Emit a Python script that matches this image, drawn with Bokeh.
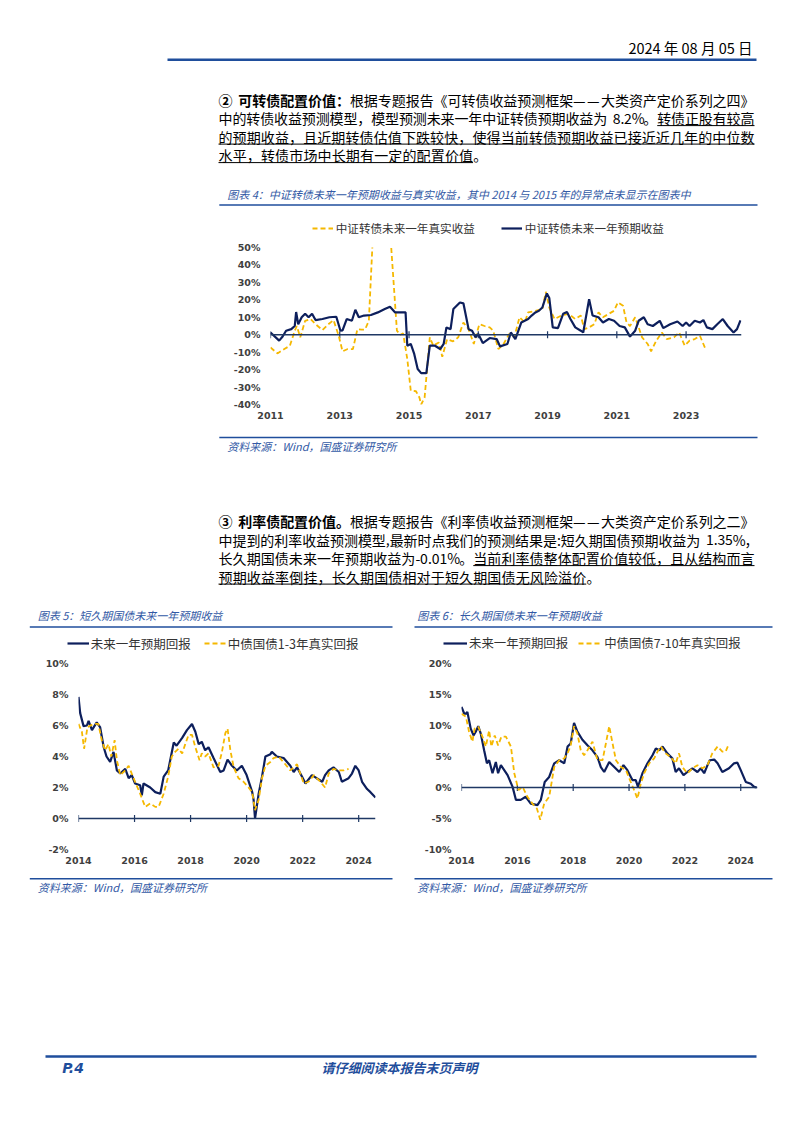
from bokeh.plotting import figure
from bokeh.models import Range1d, FixedTicker, NumeralTickFormatter, Legend, LegendItem, Span
from bokeh.layouts import column, row
from bokeh.embed import file_html
from bokeh.resources import INLINE
from bokeh.core.properties import value
from collections import defaultdict
import math

# ---------------- data (percent) ----------------
# Chart 4: CSI convertible bond index, expected vs realised 1y return
cb_exp_t = [2011.0, 2011.25, 2011.35, 2011.45, 2011.6, 2011.7, 2011.74, 2011.8, 2011.9, 2012.0, 2012.1, 2012.2,
            2012.3, 2012.5, 2012.7, 2012.9, 2013.02, 2013.08, 2013.2, 2013.35, 2013.45, 2013.55, 2013.7, 2013.9,
            2014.1, 2014.3, 2014.45, 2014.6, 2014.9, 2014.95, 2015.05, 2015.15, 2015.25, 2015.35, 2015.5, 2015.6,
            2015.75, 2015.9, 2016.0, 2016.08, 2016.2, 2016.28, 2016.47, 2016.57, 2016.72, 2016.82, 2016.92, 2017.0,
            2017.13, 2017.33, 2017.53, 2017.63, 2017.84, 2017.94, 2018.07, 2018.24, 2018.44, 2018.54, 2018.65,
            2018.75, 2018.85, 2018.98, 2019.05, 2019.15, 2019.3, 2019.45, 2019.56, 2019.66, 2019.8, 2019.96,
            2020.03, 2020.2, 2020.3, 2020.47, 2020.6, 2020.77, 2020.92, 2021.08, 2021.23, 2021.38, 2021.53,
            2021.63, 2021.78, 2021.89, 2022.04, 2022.24, 2022.34, 2022.54, 2022.75, 2022.9, 2023.0, 2023.1,
            2023.25, 2023.4, 2023.5, 2023.6, 2023.76, 2023.9, 2024.06, 2024.2, 2024.37, 2024.47, 2024.57]
cb_exp = [1.3, -3.4, -1.0, 2.3, 3.2, 5.0, 13.0, 6.0, 10.0, 12.0, 10.0, 12.0,
          8.4, 9.0, 10.0, 10.3, 2.3, 2.5, 9.0, 8.0, 14.3, 10.0, 11.0, 11.3,
          12.8, 14.7, 16.0, 12.8, 12.8, -6.3, -5.3, -11.0, -19.7, -22.0, -22.0, -6.3,
          -6.3, -8.2, -5.3, 4.2, 3.2, 14.7, 18.5, 18.0, 3.2, 2.3, -1.5, 0.4,
          -4.8, -1.9, -2.5, -6.7, -5.3, 1.3, -2.5, 7.0, 9.0, 11.0, 12.8,
          13.7, 15.6, 23.7, 21.0, 4.2, 3.8, 12.0, 13.0, 9.0, 4.2, 2.3,
          1.3, 20.4, 11.0, 10.0, 7.0, 9.0, 8.0, 5.0, 4.2, -1.1, 2.3,
          8.0, 10.0, 6.0, 5.0, 8.0, 3.8, 6.0, 7.6, 5.0, 7.0, 5.0,
          8.0, 7.0, 8.4, 4.2, 3.2, 6.0, 9.0, 5.0, 1.3, 3.2, 8.2]
cb_real_t = [2011.0, 2011.2, 2011.4, 2011.56, 2011.7, 2011.76, 2011.86, 2012.0, 2012.16, 2012.3, 2012.5, 2012.67,
             2012.82, 2012.97, 2013.08, 2013.23, 2013.38, 2013.51, 2013.63, 2013.73, 2013.84, 2014.0, 2014.2,
             2014.4, 2014.65, 2014.75, 2014.83, 2014.95, 2015.05, 2015.2, 2015.3, 2015.35, 2015.45, 2015.6,
             2015.7, 2015.86, 2015.96, 2016.1, 2016.27, 2016.42, 2016.57, 2016.72, 2016.87, 2017.03, 2017.18,
             2017.33, 2017.43, 2017.58, 2017.73, 2017.89, 2018.04, 2018.19, 2018.34, 2018.44, 2018.65, 2018.85,
             2018.95, 2019.05, 2019.2, 2019.4, 2019.6, 2019.8, 2019.96, 2020.06, 2020.2, 2020.35, 2020.47,
             2020.6, 2020.77, 2020.92, 2021.03, 2021.18, 2021.28, 2021.38, 2021.53, 2021.73, 2021.89, 2021.99,
             2022.14, 2022.3, 2022.44, 2022.65, 2022.8, 2022.96, 2023.1, 2023.25, 2023.4, 2023.56]
cb_real = [-7.3, -10.7, -8.2, -6.3, 2.3, 5.0, -1.5, 8.0, 9.0, 6.0, 2.7, 6.0,
           8.4, -0.6, -9.5, -8.2, -8.2, 3.2, 2.9, 3.0, 8.0, 75.0, 95.0,
           75.0, 2.3, 0.0, 0.8, -14.0, -32.0, -32.4, -36.0, -40.0, -36.0, -1.5,
           -6.3, -4.4, -12.6, -2.5, -3.8, -1.5, 7.0, 3.2, -5.3, 6.0, 5.0,
           4.2, 2.3, -8.2, -5.3, 0.4, -1.5, 10.0, 7.0, 12.8, 13.7, 14.7,
           24.6, 15.6, 9.0, 11.0, 12.0, 9.0, 11.0, 3.2, 4.2, 6.0, 12.8,
           10.0, 12.0, 13.7, 18.5, 16.6, 7.0, 5.0, 10.0, -1.5, -5.3, -9.5,
           -3.4, 1.3, -2.5, -1.5, 1.3, -6.3, -3.4, -2.5, -0.6, -8.2]

# Chart 5: short-duration government bonds
sg_exp_t = [2014.0, 2014.06, 2014.18, 2014.3, 2014.36, 2014.48, 2014.65, 2014.77, 2014.9, 2015.0, 2015.13, 2015.25,
            2015.37, 2015.49, 2015.67, 2015.79, 2015.9, 2016.02, 2016.2, 2016.26, 2016.32, 2016.56, 2016.74, 2016.92,
            2017.04, 2017.2, 2017.4, 2017.5, 2017.7, 2017.87, 2018.05, 2018.17, 2018.29, 2018.4, 2018.52, 2018.64,
            2018.82, 2019.06, 2019.18, 2019.32, 2019.48, 2019.65, 2019.83, 2020.0, 2020.2, 2020.25, 2020.3, 2020.43,
            2020.55, 2020.67, 2020.85, 2020.9, 2021.08, 2021.32, 2021.56, 2021.68, 2021.8, 2021.98, 2022.1, 2022.33,
            2022.5, 2022.7, 2022.8, 2022.93, 2023.1, 2023.29, 2023.4, 2023.64, 2023.76, 2023.88, 2024.0, 2024.12,
            2024.3, 2024.42, 2024.6]
sg_exp = [7.85, 6.8, 5.96, 6.0, 6.3, 5.7, 6.2, 5.9, 4.6, 4.0, 3.65, 4.3,
          3.1, 2.9, 3.2, 2.6, 2.8, 2.26, 2.15, 1.5, 2.26, 2.0, 1.7, 1.6,
          2.7, 3.1, 4.9, 4.7, 5.2, 5.7, 6.1, 5.6, 4.8, 4.95, 4.4, 4.6,
          3.9, 3.0, 3.1, 3.8, 3.4, 3.1, 3.4, 2.8, 1.7, 1.2, 0.0, 1.6,
          2.7, 4.0, 4.15, 4.3, 4.0, 3.9, 3.4, 3.0, 3.3, 2.7, 2.26, 2.8,
          2.6, 2.37, 2.8, 3.1, 3.3, 3.0, 2.37, 2.6, 2.9, 3.4, 3.1, 2.37,
          1.9, 1.7, 1.35]
sg_real_t = [2014.0, 2014.12, 2014.2, 2014.32, 2014.54, 2014.71, 2014.83, 2014.95, 2015.07, 2015.17, 2015.29, 2015.37,
             2015.49, 2015.67, 2015.79, 2015.9, 2016.02, 2016.2, 2016.38, 2016.56, 2016.74, 2016.86, 2017.04, 2017.2,
             2017.33, 2017.45, 2017.57, 2017.7, 2017.81, 2017.93, 2018.05, 2018.17, 2018.32, 2018.4, 2018.52, 2018.64,
             2018.82, 2019.0, 2019.12, 2019.24, 2019.32, 2019.42, 2019.54, 2019.71, 2019.89, 2020.07, 2020.2, 2020.3,
             2020.43, 2020.55, 2020.67, 2020.85, 2020.96, 2021.14, 2021.38, 2021.56, 2021.8, 2022.04, 2022.21, 2022.4,
             2022.63, 2022.8, 2022.93, 2023.1, 2023.29, 2023.46, 2023.64]
sg_real = [6.1, 5.6, 4.5, 5.9, 6.1, 6.1, 5.05, 4.4, 4.8, 4.0, 5.05, 3.76,
           2.8, 3.1, 3.4, 2.9, 2.37, 1.6, 0.75, 0.97, 0.75, 0.75, 1.6, 2.7,
           4.0, 4.3, 4.5, 4.2, 4.8, 5.4, 5.4, 4.6, 3.76, 4.2, 4.0, 4.2,
           3.3, 3.4, 4.3, 5.5, 5.8, 4.4, 3.3, 2.6, 2.37, 2.0, 1.7, 0.54,
           1.2, 2.6, 3.4, 3.65, 3.9, 4.0, 3.5, 3.1, 3.5, 2.26, 2.37, 2.8,
           2.37, 2.0, 2.9, 3.2, 3.1, 3.1, 3.2]

# Chart 6: long-duration government bonds
lg_exp_t = [2014.0, 2014.1, 2014.16, 2014.21, 2014.33, 2014.43, 2014.51, 2014.6, 2014.69, 2014.81, 2014.91, 2014.99,
            2015.11, 2015.23, 2015.31, 2015.41, 2015.53, 2015.65, 2015.83, 2015.95, 2016.12, 2016.3, 2016.48, 2016.72,
            2016.84, 2016.98, 2017.14, 2017.32, 2017.5, 2017.68, 2017.8, 2017.91, 2018.03, 2018.15, 2018.33, 2018.51,
            2018.69, 2018.87, 2018.99, 2019.11, 2019.29, 2019.47, 2019.65, 2019.8, 2019.94, 2020.12, 2020.24, 2020.32,
            2020.48, 2020.66, 2020.84, 2020.96, 2021.08, 2021.2, 2021.37, 2021.55, 2021.67, 2021.79, 2021.95, 2022.09,
            2022.27, 2022.45, 2022.57, 2022.69, 2022.81, 2022.89, 2023.05, 2023.17, 2023.34, 2023.58, 2023.76, 2023.88,
            2024.0, 2024.18, 2024.36, 2024.48, 2024.57]
lg_exp = [13.0, 11.9, 11.9, 12.2, 9.5, 8.4, 9.0, 9.9, 8.7, 6.0, 3.9, 4.4,
          2.3, 4.1, 2.3, 3.6, 2.8, 2.0, 0.1, -2.0, -2.0, -1.5, -2.6, -2.85,
          -2.0, 0.9, 1.7, 3.9, 4.4, 3.9, 6.6, 7.1, 10.4, 9.0, 7.7, 6.8,
          6.0, 4.9, 3.3, 2.5, 4.1, 3.3, 2.5, 3.6, 2.8, 1.2, 1.2, 0.1,
          2.3, 3.9, 5.2, 6.3, 6.0, 6.6, 5.5, 4.7, 2.5, 3.1, 2.0, 2.5,
          3.1, 2.5, 3.1, 2.3, 3.6, 4.4, 4.5, 3.9, 2.5, 3.1, 3.9, 4.0,
          2.8, 0.9, 0.6, 0.1, -0.01]
lg_real_t = [2014.0, 2014.16, 2014.27, 2014.39, 2014.47, 2014.6, 2014.75, 2014.87, 2014.99, 2015.07, 2015.19, 2015.31,
             2015.43, 2015.59, 2015.77, 2015.89, 2016.04, 2016.19, 2016.36, 2016.54, 2016.7, 2016.82, 2016.96, 2017.14,
             2017.32, 2017.5, 2017.68, 2017.8, 2017.91, 2018.03, 2018.15, 2018.27, 2018.39, 2018.51, 2018.69, 2018.87,
             2019.05, 2019.17, 2019.29, 2019.41, 2019.53, 2019.71, 2019.89, 2020.06, 2020.18, 2020.3, 2020.42, 2020.54,
             2020.72, 2020.9, 2021.02, 2021.14, 2021.31, 2021.49, 2021.67, 2021.79, 2021.91, 2022.09, 2022.27, 2022.45,
             2022.63, 2022.81, 2022.98, 2023.17, 2023.34, 2023.46, 2023.58]
lg_real = [11.9, 11.4, 9.0, 7.4, 9.5, 9.8, 8.2, 6.6, 9.2, 6.6, 8.4, 6.8,
           8.2, 8.2, 6.6, 2.3, -0.4, 0.1, -1.5, -2.6, -3.4, -5.2, -2.6, -1.5,
           3.3, 4.4, 4.7, 5.5, 6.8, 9.9, 8.7, 6.0, 5.2, 6.0, 7.4, 4.4,
           4.4, 7.1, 9.9, 7.1, 4.4, 3.3, 2.8, 0.9, -0.4, -1.8, 0.6, 2.3,
           3.9, 4.7, 5.8, 6.6, 5.5, 4.9, 3.9, 5.5, 3.3, 2.3, 3.1, 3.6,
           3.1, 3.6, 5.5, 6.6, 5.8, 5.8, 7.1]

# labels / ticks
c4_year_ticks = [2011, 2013, 2015, 2017, 2019, 2021, 2023]
c4_y_ticks = [-0.4, -0.3, -0.2, -0.1, 0.0, 0.1, 0.2, 0.3, 0.4, 0.5]
c56_year_ticks = [2014, 2016, 2018, 2020, 2022, 2024]
c5_y_ticks = [-0.02, 0.0, 0.02, 0.04, 0.06, 0.08, 0.10]
c6_y_ticks = [-0.10, -0.05, 0.0, 0.05, 0.10, 0.15, 0.20]
c4_labels = ["中证转债未来一年真实收益", "中证转债未来一年预期收益"]
c5_labels = ["未来一年预期回报", "中债国债1-3年真实回报"]
c6_labels = ["未来一年预期回报", "中债国债7-10年真实回报"]

# ---------------- styles ----------------
NAVY = "#0d1f5c"
GOLD = "#f5b800"
RULE = "#1f4e9c"
TBLUE = "#3259a5"
CJK = "Noto Sans CJK SC"
W = 800
NAVY_STYLE = dict(line_color=NAVY, line_width=2.2)
GOLD_STYLE = dict(line_color=GOLD, line_width=1.8, line_dash="5 3")


def pct(a):
    return [v / 100.0 for v in a]


def no_align(p):
    if "frame_align" in p.properties():
        p.frame_align = False
    return p


def text_fig(y0, y1):
    p = figure(width=W, height=int(round(y1 - y0)), x_range=Range1d(0, W), y_range=Range1d(y1, y0),
               output_backend="svg", toolbar_location=None, x_axis_type=None, y_axis_type=None, min_border=0)
    p.grid.visible = False
    p.outline_line_color = None
    return no_align(p)


def txt(p, x, y, s, size, color="#000000", style="normal", align="left", font=CJK):
    p.text(x=[x], y=[y], text=[s], text_font=value(font), text_font_size=value(f"{size}px"),
           text_font_style=style, text_color=color, text_align=align, text_baseline="middle")


def rule(p, x0, x1, y, w=1.5, color=RULE):
    p.segment(x0=[x0], y0=[y], x1=[x1], y1=[y], line_color=color, line_width=w)


ASCII_W = {d: 0.553 for d in "0123456789"}
ASCII_W.update({".": 0.27, "%": 0.84, "-": 0.33, " ": 0.42, ",": 0.28, ":": 0.28})


def para_line(p, segs, x0, y, x1=None, fs=14.0):
    chars = []
    for s, bold, ul in segs:
        for ch in s:
            w = fs * ASCII_W.get(ch, 0.55) if ord(ch) < 128 else fs
            chars.append((ch, w, bold, ul))
    tot = sum(c[1] for c in chars)
    gap = (x1 - x0 - tot) / (len(chars) - 1) if x1 is not None else 0.15
    groups = defaultdict(lambda: ([], []))
    x = x0
    ul_runs = []
    cur = None
    for ch, w, bold, ul in chars:
        if ch != " ":
            g = groups["bold" if bold else "normal"]
            g[0].append(x)
            g[1].append(ch)
        if ul:
            if cur is None:
                cur = [x, x + w]
            else:
                cur[1] = x + w
        else:
            if cur is not None:
                ul_runs.append(cur)
                cur = None
        x += w + gap
    if cur is not None:
        ul_runs.append(cur)
    for style, (xs, ts) in groups.items():
        p.text(x=xs, y=[y] * len(xs), text=ts, text_font=value(CJK), text_font_size=value(f"{fs}px"),
               text_font_style=style, text_color="#000000", text_align="left", text_baseline="middle")
    for a, b in ul_runs:
        p.segment(x0=[a], y0=[y + 7.6], x1=[b], y1=[y + 7.6], line_color="#000000", line_width=1)


def style_chart(p, xticks, yticks):
    p.grid.visible = False
    p.outline_line_color = None
    p.xaxis.ticker = FixedTicker(ticks=xticks)
    p.yaxis.ticker = FixedTicker(ticks=yticks)
    p.yaxis.formatter = NumeralTickFormatter(format="0%")
    for ax in (p.xaxis, p.yaxis):
        ax.axis_line_color = None
        ax.major_tick_line_color = None
        ax.minor_tick_line_color = None
        ax.major_tick_out = 0
        ax.major_tick_in = 0
        ax.minor_tick_out = 0
        ax.major_label_text_font = "DejaVu Sans"
        ax.major_label_text_font_style = "bold"
        ax.major_label_text_font_size = "9.5px"
        ax.major_label_text_color = "#404040"
    p.xaxis.major_label_standoff = 7
    p.yaxis.major_label_standoff = 10


def chart_fig(width, height, xr, yr, bl, br, bt, bb):
    p = figure(width=width, height=height, x_range=Range1d(*xr), y_range=Range1d(*yr),
               output_backend="svg", toolbar_location=None,
               min_border_left=bl, min_border_right=br, min_border_top=bt, min_border_bottom=bb)
    return no_align(p)


def zero_axis(p, ticks):
    p.add_layout(Span(location=0, dimension="width", line_color="#1f3864", line_width=1.6))
    p.scatter(x=ticks, y=[0] * len(ticks), marker="dash", angle=math.pi / 2, size=7,
              line_color="#1f3864", line_width=1.2)


def legend(host, entries, loc, fs, gw, standoff, spacing):
    # legend keys styled exactly like the chart's series (key renderers lie outside the visible range)
    items = []
    for label, style in entries:
        r = host.line(x=[-60, -50], y=[-60, -60], **style)
        items.append(LegendItem(label=label, renderers=[r]))
    lg = Legend(items=items, orientation="horizontal",
                location=loc, border_line_color=None, background_fill_alpha=0, padding=0, margin=0,
                spacing=spacing, glyph_width=gw, glyph_height=20, label_height=20, label_standoff=standoff,
                label_text_font=CJK, label_text_font_size=f"{fs}px", label_text_color="#333333")
    host.add_layout(lg)


# ---------------- header block (page y 0..240) ----------------
head = text_fig(0, 240)
txt(head, 752, 46.7, "2024 年 08 月 05 日", 14.5, align="right")
rule(head, 167, 756, 59.3, w=2.5)
P2 = [
    ([("② 可转债配置价值：", True, False), ("根据专题报告《可转债收益预测框架——大类资产定价系列之四》", False, False)], 754),
    ([("中的转债收益预测模型，模型预测未来一年中证转债预期收益为 8.2%。", False, False), ("转债正股有较高", False, True)], 754),
    ([("的预期收益，且近期转债估值下跌较快，使得当前转债预期收益已接近近几年的中位数", False, True)], 754),
    ([("水平，转债市场中长期有一定的配置价值", False, True), ("。", False, False)], None),
]
for i, (segs, x1) in enumerate(P2):
    para_line(head, segs, 218, 99 + 18.5 * i, x1)
txt(head, 226.8, 193.3, "图表 4：中证转债未来一年预期收益与真实收益，其中 2014 与 2015 年的异常点未显示在图表中", 11,
    color=TBLUE, style="italic")
rule(head, 218.8, 757, 204.5)
legend(head, [(c4_labels[0], GOLD_STYLE), (c4_labels[1], NAVY_STYLE)], (311.7, 1.7), 11.6, 21, 3, 26)

# ---------------- chart 4 (page y 240..430) ----------------
c4 = chart_fig(W, 190, (2011, 2024.6), (-0.40, 0.50), 270, 59, 7, 26)
style_chart(c4, c4_year_ticks, c4_y_ticks)
zero_axis(c4, c4_year_ticks)
c4.line(cb_real_t, pct(cb_real), **GOLD_STYLE)
c4.line(cb_exp_t, pct(cb_exp), **NAVY_STYLE)

# ---------------- middle block (page y 430..655) ----------------
mid = text_fig(430, 655)
rule(mid, 218.8, 757, 437)
txt(mid, 226.8, 445, "资料来源：Wind，国盛证券研究所", 11, color=TBLUE, style="italic")
P3 = [
    ([("③ 利率债配置价值。", True, False), ("根据专题报告《利率债收益预测框架——大类资产定价系列之二》", False, False)], 754),
    ([("中提到的利率收益预测模型,最新时点我们的预测结果是:短久期国债预期收益为 1.35%，", False, False)], 758),
    ([("长久期国债未来一年预期收益为-0.01%。", False, False), ("当前利率债整体配置价值较低，且从结构而言", False, True)], 754),
    ([("预期收益率倒挂，长久期国债相对于短久期国债无风险溢价", False, True), ("。", False, False)], None),
]
for i, (segs, x1) in enumerate(P3):
    para_line(mid, segs, 218, 520.5 + 18.5 * i, x1)
txt(mid, 37.3, 614, "图表 5：短久期国债未来一年预期收益", 11, color=TBLUE, style="italic")
txt(mid, 416.7, 614, "图表 6：长久期国债未来一年预期收益", 11, color=TBLUE, style="italic")
rule(mid, 29.3, 392, 626.5)
rule(mid, 414, 772, 626.5)
legend(mid, [(c5_labels[0], NAVY_STYLE), (c5_labels[1], GOLD_STYLE)], (66.7, 2), 12.5, 22, 2, 13)
legend(mid, [(c6_labels[0], NAVY_STYLE), (c6_labels[1], GOLD_STYLE)], (443, 2), 12.4, 24, 2, 10)

# ---------------- charts 5 & 6 (page y 655..875) ----------------
c5 = chart_fig(400, 220, (2014, 2024.6), (-0.02, 0.10), 78, 25, 8, 26)
style_chart(c5, c56_year_ticks, c5_y_ticks)
zero_axis(c5, c56_year_ticks)
c5.line(sg_exp_t, pct(sg_exp), **NAVY_STYLE)
c5.line(sg_real_t, pct(sg_real), **GOLD_STYLE)

c6 = chart_fig(400, 220, (2014, 2024.6), (-0.10, 0.20), 61, 43, 8, 26)
style_chart(c6, c56_year_ticks, c6_y_ticks)
zero_axis(c6, c56_year_ticks)
c6.line(lg_exp_t, pct(lg_exp), **NAVY_STYLE)
c6.line(lg_real_t, pct(lg_real), **GOLD_STYLE)

# ---------------- footer block (page y 875..1130) ----------------
foot = text_fig(875, 1130)
rule(foot, 29.3, 392, 878.3)
rule(foot, 414, 772, 878.3)
txt(foot, 37.3, 886, "资料来源：Wind，国盛证券研究所", 11, color=TBLUE, style="italic")
txt(foot, 416.7, 886, "资料来源：Wind，国盛证券研究所", 11, color=TBLUE, style="italic")
rule(foot, 45, 756, 1056, w=2.5)
txt(foot, 61.7, 1067, "P.4", 14, color=RULE, style="bold italic", font="DejaVu Sans")
txt(foot, 399, 1067, "请仔细阅读本报告末页声明", 13, color=RULE, style="bold italic", align="center")

page = column(row(head, spacing=0), row(c4, spacing=0), row(mid, spacing=0),
              row(c5, c6, spacing=0), row(foot, spacing=0), spacing=0)
open("out.html", "w").write(file_html(page, INLINE))
